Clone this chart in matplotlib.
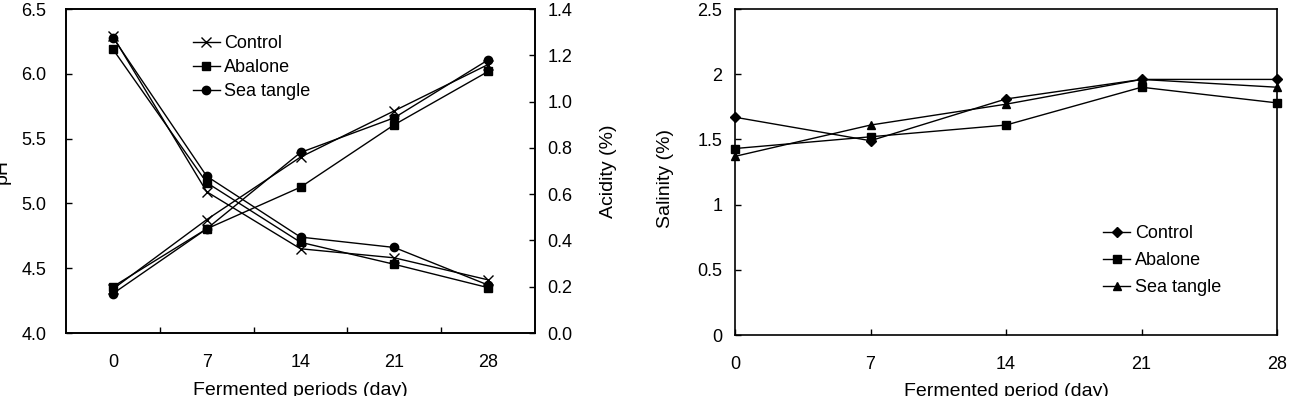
import matplotlib.pyplot as plt
from matplotlib.ticker import FormatStrFormatter, FixedLocator

plt.rcParams['font.family'] = ['Liberation Sans', 'DejaVu Sans']
plt.rcParams['font.size'] = 13

# === DATA ===
days = [0, 7, 14, 21, 28]
series = ["Control", "Abalone", "Sea tangle"]

ph_control = [6.29, 5.09, 4.65, 4.58, 4.41]
ph_abalone = [6.19, 5.16, 4.70, 4.53, 4.35]
ph_seatangle = [6.28, 5.21, 4.74, 4.66, 4.37]

acid_control = [0.19, 0.49, 0.76, 0.96, 1.16]
acid_abalone = [0.20, 0.45, 0.63, 0.90, 1.13]
acid_seatangle = [0.17, 0.45, 0.78, 0.93, 1.18]

sal_control = [1.67, 1.49, 1.81, 1.96, 1.96]
sal_abalone = [1.43, 1.52, 1.61, 1.90, 1.78]
sal_seatangle = [1.37, 1.61, 1.77, 1.96, 1.90]

W, H = 1290, 396
fig = plt.figure(figsize=(W / 100, H / 100), dpi=100)


def px_axes(left, top, right, bottom):
    return fig.add_axes([left / W, 1 - bottom / H, (right - left) / W, (bottom - top) / H])


def style_spines(ax):
    for s in ax.spines.values():
        s.set_linewidth(1.2)


LABEL_SIZE = 14
leg_kw = dict(loc="upper left", frameon=False, handlelength=1.5,
              handletextpad=0.25, borderpad=0.2)

# === LEFT: pH / acidity ===
ax1 = px_axes(66, 9, 535, 333)
ax2 = ax1.twinx()
pos = list(range(len(days)))

line_kw = dict(color="black", lw=1, clip_on=False)
ax1.plot(pos, ph_control, marker="x", ms=7, mew=1, **line_kw, label=series[0])
ax1.plot(pos, ph_abalone, marker="s", ms=6, **line_kw, label=series[1])
ax1.plot(pos, ph_seatangle, marker="o", ms=6, **line_kw, label=series[2])
ax2.plot(pos, acid_control, marker="x", ms=7, mew=1, **line_kw)
ax2.plot(pos, acid_abalone, marker="s", ms=6, **line_kw)
ax2.plot(pos, acid_seatangle, marker="o", ms=6, **line_kw)

ax1.set_xlim(-0.5, len(days) - 0.5)
ax1.set_ylim(4.0, 6.5)
ax2.set_ylim(0.0, 1.4)
ax1.set_yticks([4.0, 4.5, 5.0, 5.5, 6.0, 6.5])
ax2.set_yticks([0.0, 0.2, 0.4, 0.6, 0.8, 1.0, 1.2, 1.4])
ax1.yaxis.set_major_formatter(FormatStrFormatter("%.1f"))
ax2.yaxis.set_major_formatter(FormatStrFormatter("%.1f"))
ax1.set_xticks(pos)
ax1.set_xticklabels([str(d) for d in days])
ax1.xaxis.set_minor_locator(FixedLocator([p + 0.5 for p in pos[:-1]]))
ax1.tick_params(axis="x", which="major", length=0, pad=15)
ax1.tick_params(axis="x", which="minor", direction="in", length=4, width=1)
ax1.tick_params(axis="y", direction="in", length=4, width=1, pad=14)
ax2.tick_params(axis="y", direction="in", length=4, width=1, pad=9)

ax1.set_ylabel("pH", fontsize=LABEL_SIZE)
ax1.yaxis.set_label_coords(-0.118, 0.5)
ax2.set_ylabel("Acidity (%)", fontsize=LABEL_SIZE)
ax2.yaxis.set_label_coords(1.138, 0.5)
ax1.set_xlabel("Fermented periods (day)", va="top", fontsize=LABEL_SIZE)
ax1.xaxis.set_label_coords(0.5, -0.152)
style_spines(ax1)
style_spines(ax2)

ax1.legend(bbox_to_anchor=(0.243, 0.958), labelspacing=0.38, **leg_kw)

# === RIGHT: salinity ===
ax3 = px_axes(735, 9, 1277, 335)
ax3.plot(days, sal_control, marker="D", ms=5, **line_kw, label=series[0])
ax3.plot(days, sal_abalone, marker="s", ms=6, **line_kw, label=series[1])
ax3.plot(days, sal_seatangle, marker="^", ms=6, **line_kw, label=series[2])
ax3.set_xlim(0, 28)
ax3.set_ylim(0, 2.5)
ax3.set_xticks(days)
ax3.set_yticks([0, 0.5, 1, 1.5, 2, 2.5])
ax3.yaxis.set_major_formatter(FormatStrFormatter("%g"))
ax3.tick_params(axis="x", direction="in", length=4, width=1, pad=15)
ax3.tick_params(axis="y", direction="in", length=4, width=1, pad=9)
ax3.set_ylabel("Salinity (%)", fontsize=LABEL_SIZE)
ax3.yaxis.set_label_coords(-0.112, 0.48)
ax3.set_xlabel("Fermented period (day)", va="top", fontsize=LABEL_SIZE)
ax3.xaxis.set_label_coords(0.5, -0.147)
style_spines(ax3)

ax3.legend(bbox_to_anchor=(0.656, 0.375), labelspacing=0.55, **leg_kw)

fig.savefig("out.png", dpi=100)
